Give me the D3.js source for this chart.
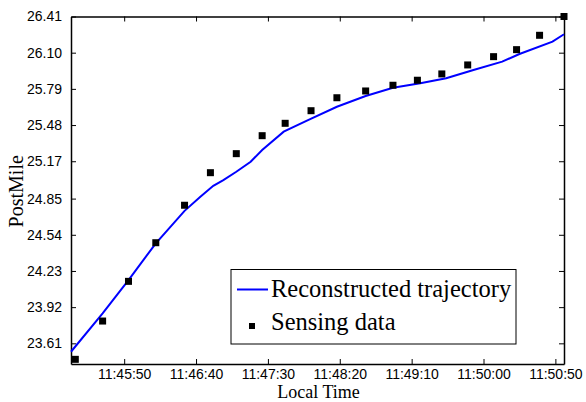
<!DOCTYPE html>
<html>
<head>
<meta charset="utf-8">
<script src="https://cdn.jsdelivr.net/npm/d3@7"></script>
<style>
  body { margin: 0; background: #fff; }
  svg { display: block; }
</style>
</head>
<body>
<svg id="chart"></svg>
<script>
// sensing data (squares)
const sensingTimes = ["11:45:16","11:45:35","11:45:53","11:46:12","11:46:32","11:46:50","11:47:08","11:47:26","11:47:42","11:48:00",
  "11:48:18","11:48:38","11:48:57","11:49:14","11:49:31","11:49:49","11:50:07","11:50:23","11:50:39","11:50:56"];
const sensingPostMile = [23.473, 23.801, 24.141, 24.472, 24.793, 25.072, 25.235, 25.389, 25.495, 25.603,
  25.714, 25.772, 25.821, 25.864, 25.918, 25.995, 26.066, 26.126, 26.249, 26.41];

// reconstructed trajectory (blue line)
const trajectoryTimes = ["11:45:13","11:45:35","11:45:53","11:46:12","11:46:32","11:46:43","11:46:52","11:46:59","11:47:08","11:47:18","11:47:26","11:47:41",
  "11:47:59","11:48:18","11:48:38","11:48:57","11:49:16","11:49:34","11:49:53","11:50:13","11:50:25","11:50:48","11:50:56"];
const trajectoryPostMile = [23.538, 23.867, 24.152, 24.467, 24.745, 24.866, 24.960, 25.009, 25.080, 25.166, 25.266, 25.423,
  25.529, 25.637, 25.729, 25.799, 25.838, 25.881, 25.952, 26.023, 26.089, 26.194, 26.258];

const xTickLabels = ["11:45:50","11:46:40","11:47:30","11:48:20","11:49:10","11:50:00","11:50:50"];
const yTickValues = [23.61, 23.92, 24.23, 24.54, 24.85, 25.17, 25.48, 25.79, 26.10, 26.41];
const xDomain = ["11:45:13", "11:50:56"];
const yDomain = [23.433, 26.41];

const parseTime = d3.timeParse("%H:%M:%S");

const svgWidth = 586, svgHeight = 402;
const margin = { top: 16.5, right: 22, bottom: 38, left: 71 };
const width = svgWidth - margin.left - margin.right;
const height = svgHeight - margin.top - margin.bottom;

const svg = d3.select("#chart").attr("width", svgWidth).attr("height", svgHeight);
const g = svg.append("g").attr("transform", `translate(${margin.left},${margin.top})`);

const x = d3.scaleTime().domain(xDomain.map(parseTime)).range([0, width]);
const y = d3.scaleLinear().domain(yDomain).range([height, 0]);

const xTicks = xTickLabels.map(parseTime);
const tickFont = "'Liberation Sans', Arial, sans-serif";
const serif = "'Liberation Serif', 'Times New Roman', serif";

// Axes (box with inward ticks)
const axB = g.append("g").attr("transform", `translate(0,${height})`)
  .call(d3.axisBottom(x).tickValues(xTicks).tickFormat(d3.timeFormat("%H:%M:%S")).tickSizeInner(-5).tickSizeOuter(0).tickPadding(5));
const axT = g.append("g")
  .call(d3.axisTop(x).tickValues(xTicks).tickFormat("").tickSizeInner(-5).tickSizeOuter(0));
const axL = g.append("g")
  .call(d3.axisLeft(y).tickValues(yTickValues).tickFormat(d3.format(".2f")).tickSizeInner(-5).tickSizeOuter(0).tickPadding(9));
const axR = g.append("g").attr("transform", `translate(${width},0)`)
  .call(d3.axisRight(y).tickValues(yTickValues).tickFormat("").tickSizeInner(-5).tickSizeOuter(0));

[axB, axT, axL, axR].forEach(a => {
  a.select(".domain").attr("stroke", "#000").attr("stroke-width", 1.5);
  a.selectAll(".tick line").attr("stroke", "#000").attr("stroke-width", 1);
  a.selectAll("text").attr("font-family", tickFont).attr("font-size", "14px").attr("fill", "#000");
});

// Trajectory line
const lineData = trajectoryTimes.map((t, i) => ({ time: parseTime(t), pm: trajectoryPostMile[i] }));
g.append("path").datum(lineData)
  .attr("fill", "none")
  .attr("stroke", "#0000ff")
  .attr("stroke-width", 2)
  .attr("d", d3.line().x(d => x(d.time)).y(d => y(d.pm)));

// Sensing squares
const sq = 7;
const pointData = sensingTimes.map((t, i) => ({ time: parseTime(t), pm: sensingPostMile[i] }));
g.selectAll("rect.pt").data(pointData).enter().append("rect")
  .attr("class", "pt")
  .attr("x", d => x(d.time) - sq / 2)
  .attr("y", d => y(d.pm) - sq / 2)
  .attr("width", sq).attr("height", sq)
  .attr("fill", "#000");

// Axis labels
svg.append("text")
  .attr("transform", `translate(23,${margin.top + height / 2 + 1}) rotate(-90)`)
  .attr("text-anchor", "middle")
  .attr("font-family", serif).attr("font-size", "20px")
  .text("PostMile");
svg.append("text")
  .attr("x", margin.left + width / 2 + 1).attr("y", 397.5)
  .attr("text-anchor", "middle")
  .attr("font-family", serif).attr("font-size", "18px")
  .text("Local Time");

// Legend
const legend = svg.append("g");
legend.append("rect")
  .attr("x", 231).attr("y", 269.5).attr("width", 285).attr("height", 74.5)
  .attr("fill", "#fff").attr("stroke", "#000").attr("stroke-width", 1);
legend.append("line")
  .attr("x1", 237).attr("x2", 268).attr("y1", 289.5).attr("y2", 289.5)
  .attr("stroke", "#0000ff").attr("stroke-width", 2);
legend.append("text").attr("x", 271).attr("y", 297)
  .attr("font-family", serif).attr("font-size", "24.5px").text("Reconstructed trajectory");
legend.append("rect")
  .attr("x", 252 - 3).attr("y", 326 - 3).attr("width", 6).attr("height", 6).attr("fill", "#000");
legend.append("text").attr("x", 271).attr("y", 330)
  .attr("font-family", serif).attr("font-size", "24.5px").text("Sensing data");
</script>
</body>
</html>
